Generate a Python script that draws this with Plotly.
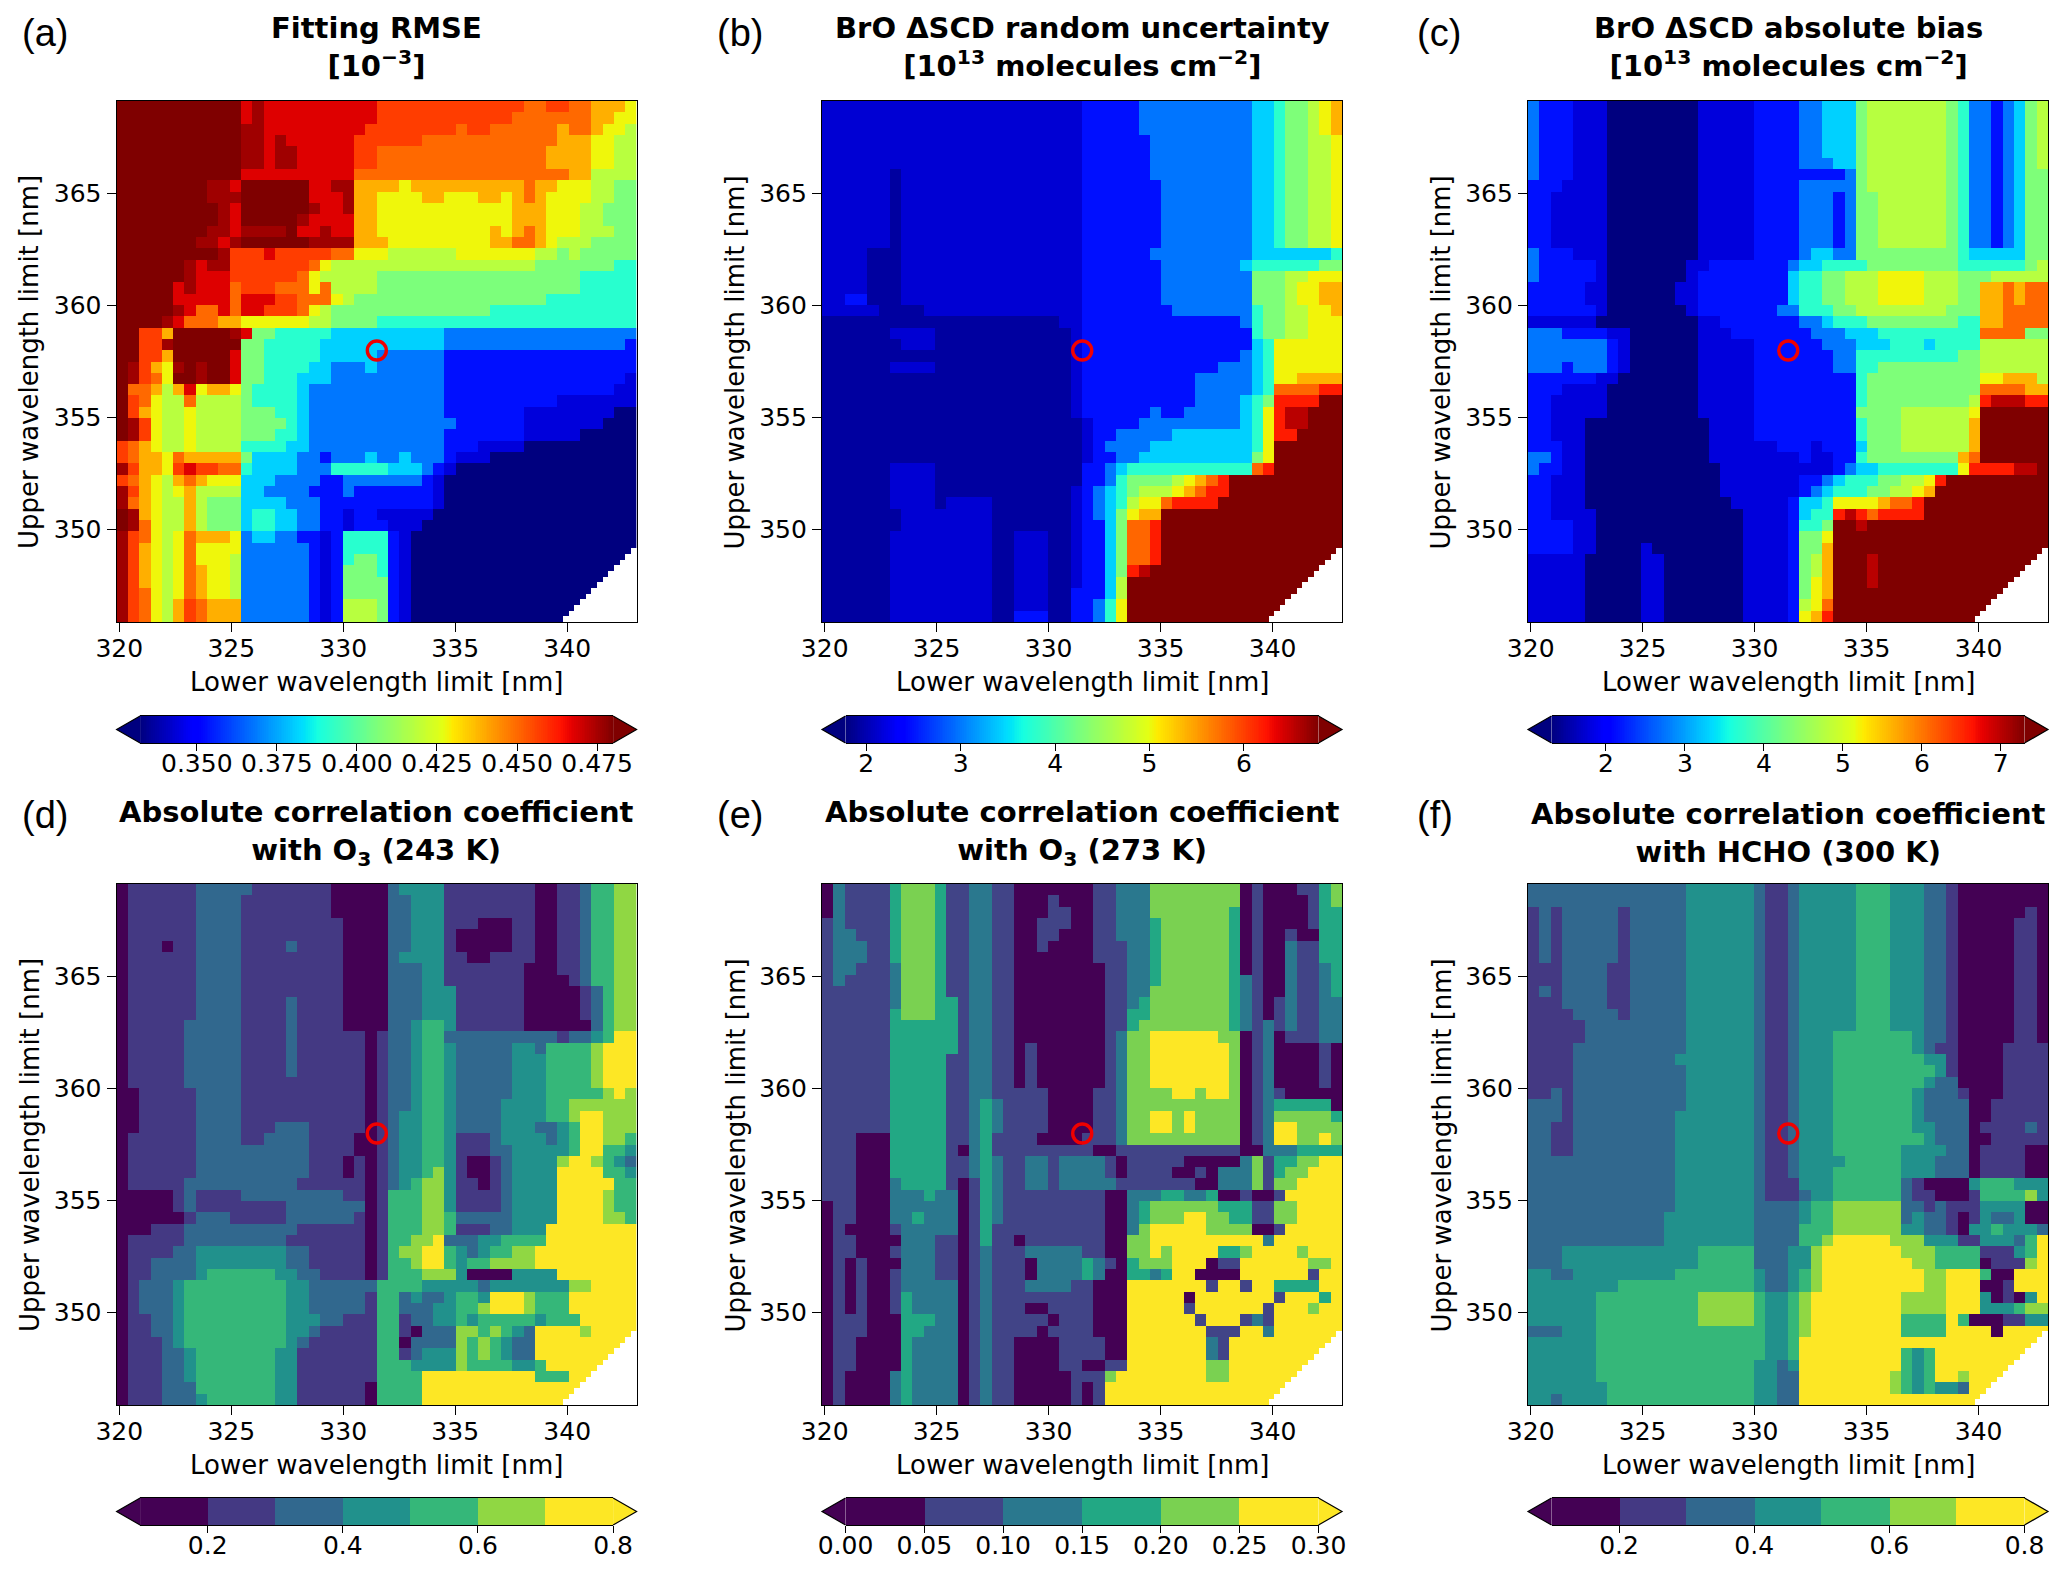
import plotly.graph_objects as go

W, H = 2067, 1571

tick_x = [320, 325, 330, 335, 340]
tick_y = [350, 355, 360, 365]
x_label = "Lower wavelength limit [nm]"
y_label = "Upper wavelength limit [nm]"
ref_point = (331.5, 358.0)
min_window = 6.3  # nm: narrower fit windows have no value (white corner)

# level tables: one value per code character of the grids below
codes = "0123456789abcde"
levels_a = [.332,.344,.353,.368,.381,.391,.406,.418,.428,.439,.450,.468,.476,.482,.457]
levels_b = [1.92,2.14,2.48,2.98,3.43,3.78,4.29,4.69,5.04,5.39,5.79,6.19,6.54,6.9]
levels_c = [1.28,1.79,2.15,2.75,3.29,3.71,4.31,4.78,5.2,5.62,6.1,6.58,7.0,7.4]
levels_d = [.15,.25,.35,.45,.55,.65,.75]
levels_e = [.025,.075,.125,.175,.225,.275]
levels_f = [.15,.25,.35,.45,.55,.65,.75]

grid_a = """
ddddd ddddd dbcbb bbbbb bbbee eeeee eeeee eaaee aa9998
ddddd ddddd dbcbb bbbbb bbbee eeeee eeeee aaaaa aa9988
ddddd ddddd dccbb bbbbb bbeee eeeee aeeaa aaaa9 aa9887
ddddd ddddd dccbc bbbbb beeee eeaaa aaaaa aaaa9 998877
ddddd ddddd dccbc cbbbb beeaa aaaaa aaaaa aaa99 998877
ddddd ddddd dccbc cbbbb beeaa aaaaa aaaaa aaa99 998877
ddddd ddddd dbbbb bbbbb baaaa aaaaa aaaaa aaaaa 997777
ddddd dddcc bdddd ddbbc c9999 89999 99999 9a998 887766
ddddd dddcc cdddd ddbbb c9988 88998 88998 9a988 887766
ddddd ddddc bdddd ddcbb c9988 88888 88888 99988 877666
ddddd ddddc bdddd dcbbb b9988 88888 88888 99988 877666
ddddd dddcc bcccc dbbcb b9988 88888 88898 9a988 877766
ddddd ddccb cdddd ddccc c9998 88888 88899 aa987 776666
ddddd ddddc eeebe eeeea a8887 77777 88888 88776 766666
ddddd dcbcc eeeee eea87 77777 77777 77777 77666 666655
ddddd dcbbb eeeee ea877 77766 66666 66666 66666 655555
ddddd bcbbb aeeea aa8a7 77766 66666 66666 66666 655555
ddddd bbbbb abbbe eaaa8 76666 66666 66666 66655 555555
ddddd cbaab abbee ea876 66666 66666 66655 55555 555555
ddddc baaa9 98888 88776 66655 55555 55555 55555 555555
ddee9 ddddd cb665 55554 44444 44443 33333 33333 333333
ddeec ddddd d6655 55544 44444 44443 33333 33333 333332
ddee9 ddddd b6655 55544 44433 33332 22222 22222 222222
dce98 cdcdd b6655 55443 33433 33332 22222 22222 222222
dcea8 ddcdd b6655 54443 33333 33332 22222 22222 222221
daa97 9b899 86555 54333 33333 33332 22222 22222 222211
dea87 7a777 76555 54333 33333 33332 22222 22221 111111
de987 78777 76665 54333 33333 33332 22222 21111 111100
dce87 78777 76666 54333 33333 33333 22222 21111 111000
dce87 78777 76665 54333 33333 33332 22222 21111 100000
ea987 78777 75555 44333 33333 33332 22111 10000 000000
ea998 a9999 96444 43323 33433 43332 11100 00000 000000
ce998 ebeea a5444 43335 55554 44321 00000 00000 000000
ea987 9a988 84443 33322 33333 33210 00000 00000 000000
ce987 89777 74433 33222 32222 22210 00000 00000 000000
ca987 79766 64444 33322 22222 22210 00000 00000 000000
dc987 79766 64554 43322 12211 11100 00000 00000 000000
dca87 79766 64554 43322 12221 11000 00000 00000 000000
cea87 8a999 83443 32212 55552 10000 00000 00000 000000
ce987 8a888 83333 33212 55552 10000 00000 00000 000000
ce987 8a888 73333 33212 56652 10000 00000 00000 000000
ce987 8a988 73333 33212 66652 10000 00000 00000 000000
ce987 8a988 73333 33212 66662 10000 00000 00000 000000
cea87 8a988 73333 33212 66662 10000 00000 00000 000000
cea87 9ea99 93333 33212 77762 10000 00000 00000 000000
cea87 9ea99 93333 33212 77762 10000 00000 00000 000000
"""

grid_b = """
11111 11111 11111 11111 11122 22233 33333 33344 566789
11111 11111 11111 11111 11122 22233 33333 33344 566789
11111 11111 11111 11111 11122 22233 33333 33344 566789
11111 11111 11111 11111 11122 22223 33333 33344 566778
11111 11111 11111 11111 11122 22223 33333 33344 566778
11111 11111 11111 11111 11122 22223 33333 33344 566778
11111 10111 11111 11111 11122 22223 33333 33344 566778
11111 10111 11111 11111 11122 22222 33333 33344 566778
11111 10111 11111 11111 11122 22222 33333 33344 566778
11111 10111 11111 11111 11122 22222 33333 33344 566778
11111 10111 11111 11111 11122 22222 33333 33344 566778
11111 10111 11111 11111 11122 22222 33333 33344 566778
11111 10111 11111 11111 11122 22222 33333 33344 566778
11110 00111 11111 11111 11122 22223 33333 33344 444445
11110 00111 11111 11111 11122 22222 33333 33455 555566
11110 00111 11111 11111 11122 22222 33333 33366 677888
11110 00111 11111 11111 11122 22222 33333 33366 678899
11220 00111 11111 11111 11122 22222 33333 33366 678899
11111 00001 11111 11111 11122 22222 23333 33356 677889
00000 00000 00000 00000 01122 22222 22222 22356 677888
00000 01111 00000 00000 00122 22222 22222 22256 677888
00000 00111 00000 00000 00122 22222 22222 22245 888888
00000 00000 00000 00000 00122 22222 22222 22345 888888
00000 01111 00000 00000 00122 22222 22222 33345 888888
00000 00000 00000 00000 00122 22222 22233 33345 889999
00000 00000 00000 00000 00122 22222 22233 33345 aaaabb
00000 00000 00000 00000 00122 22222 22233 33456 bbbbdd
00000 00000 00000 00000 00122 22223 22333 33458 bccddd
00000 00000 00000 00000 00012 22233 33333 33458 bccddd
00000 00000 00000 00000 00012 23333 34444 44458 bbdddd
00000 00000 00000 00000 00012 33334 44444 44458 dddddd
00000 00000 00000 00000 00012 23344 44444 44468 dddddd
00000 01111 00000 00000 00022 34555 55555 555ab dddddd
00000 01111 00000 00000 00022 35666 6789a bdddd dddddd
00000 01111 00000 00000 00123 45677 789ab bdddd dddddd
00000 01111 01111 00000 00123 45788 abbbb ddddd dddddd
00000 00111 11111 00000 00123 46899 ddddd ddddd dddddd
00000 00111 11111 00000 00122 46aab ddddd ddddd dddddd
00000 01111 11111 00111 00122 46aab ddddd ddddd dddddd
00000 01111 11111 00111 00122 46aab ddddd ddddd dddddd
00000 01111 11111 00111 00122 46aab ddddd ddddd dddddd
00000 01111 11111 00111 00122 46bcd ddddd ddddd dddddd
00000 01111 11111 00111 00122 47ddd ddddd ddddd dddddd
00000 01111 11111 00111 00222 47ddd ddddd ddddd dddddd
00000 01111 11111 00111 00223 58ddd ddddd ddddd dddddd
00000 01111 11111 00222 00223 58ddd ddddd ddddd dddddd
"""

grid_c = """
32221 11000 00000 11111 22223 34446 77777 77653 323467
32221 11000 00000 11111 22223 34446 77777 77653 323467
32221 11000 00000 11111 22223 34446 77777 77653 323467
32221 11000 00000 11111 22223 34446 77777 77653 323467
32221 11000 00000 11111 22223 34446 77777 77653 323467
32221 11000 00000 11111 22223 33446 77777 77653 323467
32221 11000 00000 11111 22222 22236 77777 77653 323466
22211 11000 00000 11111 22223 33336 77777 77653 323466
22111 11000 00000 11111 22223 33236 67777 77653 323466
22111 11000 00000 11111 22223 33236 67777 77653 323466
22111 11000 00000 11111 22223 33236 67777 77653 323466
22111 11000 00000 11111 22223 33236 67777 77653 323466
22111 11000 00000 11111 22223 33236 67777 77653 323466
32221 11000 00000 11111 22223 44336 66666 66654 444466
32222 21000 00001 12222 22234 45555 66666 66655 555567
32222 21000 00001 22222 22245 56677 78888 77766 677777
22222 11000 00011 22222 22245 56677 78888 77766 99a9aa
22222 11000 00011 22222 22245 56677 78888 77766 99a9aa
22222 21000 00001 22222 22335 55667 77777 77666 99aaaa
11111 10000 00000 11222 22223 34555 66666 66655 99aaaa
33322 22110 00000 11122 22222 33344 45555 55555 aaaa66
33333 33210 00000 11111 22222 23334 44555 45555 777777
33333 33210 00000 11111 22222 22335 55555 55566 777777
33323 33210 00000 11111 22222 22335 56666 66666 777777
22222 21100 00000 11111 22222 22225 66666 66666 889997
22211 11000 00000 11111 22222 22225 66666 66666 aaaa99
22111 11000 00000 11111 22222 22225 66666 66667 bcccbb
22111 11000 00000 11111 22222 22226 66677 77778 dddddd
22111 00000 00000 01111 22222 22225 66677 77779 dddddd
22111 00000 00000 01111 22222 22225 66677 77779 dddddd
22211 00000 00000 01111 11222 12224 66677 77779 dddddd
33211 00000 00000 01111 11112 11225 66666 6669a dddddd
32211 00000 00000 00111 11111 11234 45555 5558b bbbccd
22111 00000 00000 00111 11112 23455 56677 8bddd dddddd
22111 00000 00000 00111 11112 34555 66778 9dddd dddddd
22111 00000 00000 00011 11124 45888 89aab ddddd dddddd
22111 10000 00000 00001 11124 55bcb abbbb ddddd dddddd
22221 10000 00000 00001 11125 56ddc ddddd ddddd dddddd
22221 10000 00000 00001 11126 68ddd ddddd ddddd dddddd
22221 10000 10000 00001 11126 69ddd ddddd ddddd dddddd
11111 00000 11000 00001 11126 79ddd cdddd ddddd dddddd
11111 00000 11000 00001 11126 79ddd cdddd ddddd dddddd
11111 00000 11000 00001 11126 89ddd cdddd ddddd dddddd
11111 00000 11000 00001 11126 89ddd ddddd ddddd dddddd
11111 00000 11000 00001 11127 8addd ddddd ddddd dddddd
11111 00000 11000 00001 11128 9bddd ddddd ddddd dddddd
"""

grid_d = """
01111 11222 22111 11110 00002 33331 11111 11001 124455
01111 11222 21111 11110 00002 23331 11111 11001 124455
01111 11222 21111 11110 00002 23331 11111 11001 124455
01111 11222 21111 11111 00002 23331 11000 11001 124455
01111 11222 21111 11111 00002 23331 00000 11001 124455
01110 11222 21111 21111 00002 23331 00000 11001 124455
01111 11222 21111 11111 00002 33331 10011 11001 124455
01111 11222 21111 11111 00002 22331 11111 10001 124455
01111 11222 21111 11111 00002 22331 11111 10000 124455
01111 11222 21111 11111 00002 22333 11111 10000 012455
01111 11222 21111 21111 00002 22333 11111 10000 012455
01111 11222 21111 21111 00002 22333 11111 10000 012455
01111 12222 21111 21111 00002 23443 11111 10000 002455
01111 12222 21111 21111 11012 23442 22222 22221 223466
01111 12222 21111 21111 11012 23443 22222 33244 445666
01111 12222 21111 21111 11012 23443 22222 33344 445666
01111 12222 21111 21111 11012 23443 22222 33344 445666
01111 12222 21111 11111 11012 23443 22222 33344 445666
00111 11222 21111 11111 11012 23443 22222 33344 444565
00111 11222 21111 11111 11012 23443 22223 33344 555555
00111 11222 21111 11111 11012 33443 22223 33344 566555
00111 11222 21112 22111 11012 33443 22223 33223 466555
01111 11222 21122 22111 10012 33443 11123 33323 466554
01111 11222 22222 22111 10012 33443 11122 33333 466443
01111 11222 22222 22111 01012 33443 10012 33335 665432
01111 11222 22222 22111 01012 33453 10012 33336 666443
01111 12222 22222 21111 11012 34553 11012 33336 666644
00000 12111 12222 22222 11014 44553 11112 33336 666544
00000 12111 11111 22222 22014 44553 11112 33336 666544
00000 01222 11111 22222 21014 44554 22222 33336 666554
00011 12222 22222 21111 11014 44554 11122 33366 666666
01111 12222 22222 11111 11014 45562 22334 44466 666666
01111 22333 33333 22111 11014 55664 32344 55666 666666
01122 22333 33333 22111 11014 45664 34455 55666 666666
01122 22344 44443 32211 11014 44555 30000 33336 666666
01222 34444 44444 33222 22244 44333 33233 33333 556666
01222 34444 44444 33222 22144 23223 44366 65444 666666
01222 34444 44444 33222 22144 22233 44566 65444 666666
01122 34444 44444 33322 11144 12233 43444 44344 466666
01122 34444 44444 33211 11144 10222 55454 32666 656666
01112 34444 44444 32111 11144 02222 54543 22666 666666
01112 23444 44443 31111 11144 12333 54543 22666 666666
01112 23444 44443 31111 11144 43333 54444 33466 666666
01112 23444 44443 31111 11144 44666 66666 66444 666666
01112 22444 44443 31111 11044 44666 66666 66666 666666
01112 22344 44443 31111 11044 44666 66666 66666 666666
"""

grid_e = """
02111 13444 31122 11000 00001 12224 44444 44010 001134
02111 13444 31122 11000 10001 12224 44444 44010 000134
02111 13444 31122 11000 11001 12224 44444 43010 000133
12111 13444 31122 11001 11001 12223 44444 43010 000133
12211 13444 31122 11001 10001 12223 44444 43010 010033
12221 13444 31122 11001 00001 11223 44444 43010 021133
12221 13444 31122 11000 00001 11223 44444 43010 021133
12211 12444 31122 11000 00000 11223 44444 43010 021123
12111 12444 31122 11000 00000 11223 44444 43210 021123
11111 12444 31122 11000 00000 11224 44444 43210 021123
11111 12444 33122 11000 00000 11234 44444 43210 121122
11111 13444 33122 11000 00000 11334 44444 43210 121122
11111 13333 33122 11000 00000 11344 44444 43212 121122
11111 13333 33122 11000 00000 12445 55555 44012 011122
11111 13333 33122 11010 00000 12445 55555 54012 000010
11111 13333 31122 11010 00000 12445 55555 54012 000010
11111 13333 31122 11010 00000 12445 55555 54012 000010
11111 13333 31122 11010 00000 12445 55555 54012 000010
11111 13333 31122 11111 00001 12444 45545 54012 100000
11111 13333 31123 21111 00001 12444 44444 44012 333330
11111 13333 31123 21111 00001 12445 54544 44012 444443
11111 13333 31123 21111 00001 12445 54544 44012 554444
11100 03333 31123 11110 00011 12444 44444 44012 554454
11100 03333 31023 11111 11110 01111 11111 11002 223333
11100 03333 31123 21122 12222 10111 11000 00241 334455
11100 03333 31123 21122 12222 10111 10010 22241 344555
11100 02333 31013 21122 12222 21111 11100 22241 445555
11100 02223 22013 21111 11111 00222 33223 00100 155555
01100 02222 22013 21111 11111 00234 44444 33311 445555
01100 02232 22013 21111 11111 00234 44554 43311 445555
01000 01222 22013 11111 11111 00245 55554 44400 155555
01100 00222 11013 11011 11111 00445 55555 55552 555555
01100 01222 11012 11122 22211 00445 45555 33455 554555
01010 00222 11012 11102 22232 10344 45550 11555 555445
01010 01222 11012 11102 22232 00332 35500 00555 555155
01010 01222 22012 11122 22110 00555 55551 55155 333355
01010 01322 22012 11111 11110 00555 55055 55555 155535
01010 01322 22012 11100 11110 00555 55155 55551 555455
01110 00333 22012 11111 01110 00555 55515 55121 555555
01110 00332 22012 11110 11110 00555 55551 11552 555555
01100 00322 22012 11000 01111 00555 55552 15555 555555
01100 00322 22012 11000 01111 00555 55552 15555 555555
01100 00322 22012 11000 01100 11555 55554 45555 555555
01000 02322 22012 11000 00111 45555 55554 45555 555555
01000 02322 22012 11000 00101 55555 55555 55555 555555
01000 02322 22012 11000 00101 55555 55555 55555 555555
"""

grid_f = """
22222 22222 22223 33333 21123 33334 44333 22100 000000
22222 22222 22223 33333 21123 33334 44333 22100 000000
12122 22212 22223 33333 21123 33334 44333 22100 000010
12122 22212 22223 33333 21123 33334 44333 22100 000110
12122 22212 22223 33333 21123 33334 44333 22100 000110
12122 22212 22223 33333 21123 33334 44333 22100 000110
12122 22212 22223 33333 21123 33334 44333 22100 000110
11122 22112 22223 33333 21123 33334 44333 22100 000110
11122 22112 22223 33333 21123 33334 44333 22100 000110
12122 22112 22223 33333 21123 33334 44333 22100 000110
11122 22112 22223 33333 21123 33334 44333 22100 000110
11112 22212 22223 33333 21123 33334 44333 22100 000110
11111 22222 22223 33333 21123 33334 44333 22100 000110
11111 22222 22223 33333 21123 33444 44443 22100 000110
11112 22222 22223 33333 21123 33444 44443 21100 001111
11112 22222 22233 33333 21123 33444 44444 33100 001111
11112 22222 22223 33333 21123 33444 44444 43100 001111
11112 22222 22223 33333 21123 33444 44444 32200 001111
11212 22222 22223 33333 21123 33444 44443 22210 001111
22212 22222 22223 33333 21123 33444 44443 22220 011111
22212 22222 22233 33333 21123 33444 44443 22220 011111
22112 22222 22233 33333 21123 33444 44443 32220 111121
22112 22222 22233 33333 21123 33444 44444 32220 011111
22112 22222 22233 33333 21123 33444 44433 33220 111100
22222 22222 22233 33333 21123 33344 44433 32220 111100
22222 22222 22233 33333 21123 33444 44433 32220 111100
22222 22222 22233 33333 21113 33444 44421 00003 444333
22222 22222 22233 33333 21112 33444 44421 10001 444453
22222 22222 22233 33333 22223 44555 55522 12111 333300
22222 22222 22333 33333 22223 44555 55523 22101 322300
22222 22222 22333 33333 22224 44555 55533 22103 343332
22222 22222 22333 33333 22224 45666 66555 33311 333246
22233 33333 33333 44444 22233 56666 66655 54444 111346
22233 33333 33333 44444 22233 56666 66665 54444 011156
33223 33333 33344 44444 32234 56666 66666 55666 400666
33333 33344 44444 44444 32234 56666 66666 55666 001666
33333 34444 44444 55555 43345 66666 66655 55666 301036
33333 34444 44444 55555 43345 66666 66655 55666 333455
33333 34444 44444 55555 43345 66666 66644 44640 001133
22233 34444 44444 44444 43345 66666 66644 44666 606666
33333 34444 44444 44444 43346 66666 66666 66666 666666
33333 34444 44444 44444 43346 66666 66643 46666 666666
33333 34444 44444 44444 33236 66666 66643 46666 666666
33333 34444 44444 44444 33226 66666 66543 46656 666666
33333 33444 44444 44444 33226 66666 66543 43326 666666
33233 33444 44444 44444 33226 66666 66666 66666 666666
"""

jet = [[0, "#00007f"], [.11, "#0000ff"], [.125, "#0000ff"], [.34, "#00dbff"], [.35, "#00e5f7"],
       [.375, "#16ffe1"], [.5, "#7dff7a"], [.64, "#e4ff13"], [.66, "#ffea00"], [.89, "#ff1200"],
       [.91, "#e80000"], [1, "#7f0000"]]
vir7 = ["#440154", "#443983", "#31688e", "#21918c", "#35b779", "#90d743", "#fde725"]
vir6 = ["#440154", "#414487", "#2a788e", "#22a884", "#7ad151", "#fde725"]

def bands(cols):
    n = len(cols)
    out = []
    for k, c in enumerate(cols):
        out += [[k / n, c], [(k + 1) / n, c]]
    return out

# pixel layout
lefts = [116.6, 822, 1528]
tag_off = [97, 107, 113]
pw = 520
rows_px = [dict(top=101, bot=622, bar=716, title=47, tag=33, xlab=682),
           dict(top=884, bot=1405, bar=1498, title=833, tag=815, xlab=1465)]
x_rng = [319.88, 343.10]
y_rng = [345.88, 369.14]
dx = (x_rng[1] - x_rng[0]) / 92
dy = (y_rng[1] - y_rng[0]) / 92
xs = [x_rng[0] + dx * (i + .5) for i in range(92)]
ys = [y_rng[1] - dy * (j + .5) for j in range(92)]

def decode(text, levels):
    z = []
    lines = text.strip().splitlines()
    for j, line in enumerate(lines):
        s = line.replace(" ", "")
        s = (s + s[-1] * 46)[:46]
        for sub in (0, 1):
            row = []
            for i, ch in enumerate(s):
                for k in (0, 1):
                    col = 2 * i + k
                    jj = 2 * j + sub
                    row.append(None if ys[jj] - xs[col] < min_window else levels[codes.index(ch)])
            z.append(row)
    return z

panels = [
    dict(tag="(a)", grid=grid_a, lv=levels_a, cs=jet, zr=(.3323, .480), ticks=[.35, .375, .4, .425, .45, .475],
         fmt=".3f", ends=("#00007f", "#7f0000"),
         title="<b>Fitting RMSE<br>[10<sup>−3</sup>]</b>"),
    dict(tag="(b)", grid=grid_b, lv=levels_b, cs=jet, zr=(1.78, 6.79), ticks=[2, 3, 4, 5, 6],
         fmt="d", ends=("#00007f", "#7f0000"),
         title="<b>BrO ΔSCD random uncertainty<br>[10<sup>13</sup> molecules cm<sup>−2</sup>]</b>"),
    dict(tag="(c)", grid=grid_c, lv=levels_c, cs=jet, zr=(1.31, 7.30), ticks=[2, 3, 4, 5, 6, 7],
         fmt="d", ends=("#00007f", "#7f0000"),
         title="<b>BrO ΔSCD absolute bias<br>[10<sup>13</sup> molecules cm<sup>−2</sup>]</b>"),
    dict(tag="(d)", grid=grid_d, lv=levels_d, cs=bands(vir7), zr=(.1, .8), ticks=[.2, .4, .6, .8],
         fmt=".1f", ends=(vir7[0], vir7[-1]),
         title="<b>Absolute correlation coefficient<br>with O<sub>3</sub> (243 K)</b>"),
    dict(tag="(e)", grid=grid_e, lv=levels_e, cs=bands(vir6), zr=(0, .3), ticks=[0, .05, .1, .15, .2, .25, .3],
         fmt=".2f", ends=(vir6[0], vir6[-1]),
         title="<b>Absolute correlation coefficient<br>with O<sub>3</sub> (273 K)</b>"),
    dict(tag="(f)", grid=grid_f, lv=levels_f, cs=bands(vir7), zr=(.1, .8), ticks=[.2, .4, .6, .8],
         fmt=".1f", ends=(vir7[0], vir7[-1]),
         title="<b>Absolute correlation coefficient<br>with HCHO (300 K)</b>"),
]

FONT = "DejaVu Sans"
fig = go.Figure()
shapes, annos = [], []
BAR_H, ARROW = 27, 23.5
tick_font = dict(family=FONT, size=25, color="black")
lab_font = dict(family=FONT, size=26, color="black")

for n, p in enumerate(panels):
    r = rows_px[n // 3]
    L = lefts[n % 3]
    ax = "" if n == 0 else str(n + 1)
    cax = str(n + 7)
    fig.add_trace(go.Heatmap(
        z=decode(p["grid"], p["lv"]), x=xs, y=ys, xaxis="x" + ax, yaxis="y" + ax,
        colorscale=p["cs"], zmin=p["zr"][0], zmax=p["zr"][1], zsmooth=False, hoverongaps=False, showscale=False))
    fig.add_trace(go.Scatter(x=[ref_point[0]], y=[ref_point[1]], mode="markers", xaxis="x" + ax, yaxis="y" + ax,
                             showlegend=False, hoverinfo="skip",
                             marker=dict(symbol="circle-open", size=19, color="#f00000",
                                         line=dict(width=3.4, color="#f00000"))))
    # colour bar drawn as a one-row heatmap on its own axis
    z0, z1 = p["zr"]
    bar_x = [z0 + (z1 - z0) * (k + .5) / 256 for k in range(256)]
    fig.add_trace(go.Heatmap(z=[bar_x], x=bar_x, y=[0], xaxis="x" + cax, yaxis="y" + cax, colorscale=p["cs"],
                             zmin=z0, zmax=z1, zsmooth=False, showscale=False, hoverinfo="skip"))
    common = dict(showgrid=False, zeroline=False, showline=True, mirror=True, linecolor="black", linewidth=1.2,
                  ticks="outside", tickwidth=1.3, tickcolor="black", tickfont=tick_font, automargin=False)
    fig.update_layout({
        "xaxis" + ax: dict(domain=[L / W, (L + pw) / W], range=x_rng, tickvals=tick_x, anchor="y" + ax, ticklen=9,
                           ticklabelstandoff=-5, **common),
        "yaxis" + ax: dict(domain=[1 - r["bot"] / H, 1 - r["top"] / H], range=y_rng, tickvals=tick_y, anchor="x" + ax,
                           ticklen=9, **common),
        "xaxis" + cax: dict(domain=[(L + ARROW) / W, (L + pw - ARROW) / W], range=[z0, z1], tickvals=p["ticks"],
                            tickformat=p["fmt"], anchor="y" + cax, ticklen=7, ticklabelstandoff=-9, **common),
        "yaxis" + cax: dict(domain=[1 - (r["bar"] + BAR_H) / H, 1 - r["bar"] / H], range=[-.5, .5], anchor="x" + cax,
                            showgrid=False, zeroline=False, showline=False, showticklabels=False, ticks=""),
    })
    annos.append(dict(text=p["title"], xref="paper", yref="paper", x=(L + pw / 2) / W, y=1 - r["title"] / H,
                      xanchor="center", yanchor="middle", showarrow=False, align="center",
                      font=dict(family=FONT, size=29, color="black")))
    annos.append(dict(text=p["tag"], xref="paper", yref="paper", x=(L - tag_off[n % 3]) / W, y=1 - r["tag"] / H,
                      xanchor="left", yanchor="middle", showarrow=False,
                      font=dict(family="Liberation Sans", size=38, color="black")))
    annos.append(dict(text=x_label, xref="paper", yref="paper", x=(L + pw / 2) / W, y=1 - r["xlab"] / H,
                      xanchor="center", yanchor="middle", showarrow=False, font=lab_font))
    annos.append(dict(text=y_label, xref="paper", yref="paper", x=(L - 87) / W, y=1 - ((r["top"] + r["bot"]) / 2 + 1) / H,
                      xanchor="center", yanchor="middle", showarrow=False, textangle=-90, font=lab_font))
    yc = 1 - (r["bar"] + BAR_H / 2) / H
    yt = 1 - r["bar"] / H
    yb = 1 - (r["bar"] + BAR_H) / H
    for side, col in zip((0, 1), p["ends"]):
        tip = L if side == 0 else L + pw
        base = L + ARROW if side == 0 else L + pw - ARROW
        shapes.append(dict(type="path", xref="paper", yref="paper",
                           path=f"M {base / W} {yt} L {tip / W} {yc} L {base / W} {yb}",
                           fillcolor=col, line=dict(color="black", width=1.2)))

fig.update_layout(width=W, height=H, margin=dict(l=0, r=0, t=0, b=0), paper_bgcolor="white", plot_bgcolor="white",
                  showlegend=False, shapes=shapes, annotations=annos, font=dict(family=FONT))
fig.write_html("out.html", config={"displayModeBar": False},
               post_script="document.body.style.margin='0';document.documentElement.style.overflow='hidden';")
